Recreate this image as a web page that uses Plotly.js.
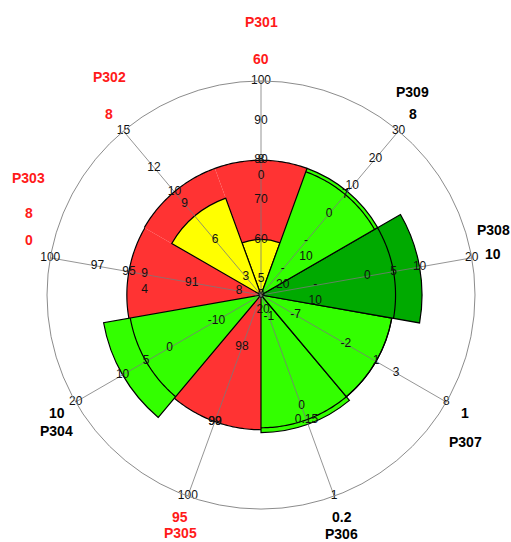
<!DOCTYPE html>
<html><head><meta charset="utf-8">
<script src="https://cdn.plot.ly/plotly-3.0.1.min.js"></script>
<style>html,body{margin:0;padding:0;background:#fff}#chart{width:511px;height:542px}</style>
</head><body><div id="chart"></div>
<script>
// ---------- data ----------
const names = ['P301','P302','P303','P304','P305','P306','P307','P308','P309'];
const angles = [90,130,170,210,250,290,330,10,50];
const values = [60, 8, 80, 10, 95, 0.2, 1, 10, 8];
const valueLabels = ['60','8','8<br>0','10','95','0.2','1','10','8'];
const limits = [80, 10, 95, 5, 99, 0.15, 1, 5, 7];
const limitLabels = ['80','10','95','5','99','0.15','1','5','7'];
const scaleMin = [46, 1.5, 86.6, -19.5, 97.3, -1.24, -10.45, -20.4, -29.4];
const scaleMax = [100, 15, 100, 20, 100, 1, 8, 20, 30];
const tickValues = [
  [50,60,70,80,90,100],
  [3,6,9,12,15],
  [88,91,94,97,100],
  [-10,0,10,20],
  [98,99,100],
  [-1,0,1],
  [-7,-2,3,8],
  [-20,-10,0,10,20],
  [-20,-10,0,10,20,30]
];
const tickLabels = [
  ['5<br>0','60','70','8<br>0','90','100'],
  ['3','6','9','12','15'],
  ['8','91','9<br>4','97','100'],
  ['-10','0','10','20'],
  ['98','99','100'],
  ['-1','0','1'],
  ['-7','-2','3','8'],
  ['-<br>20','-<br>10','0','10','20'],
  ['-<br>20','-<br>10','0','10','20','30']
];
const limitStatus = ['red','red','red','green','red','green','green','dark','green'];
const valueStatus = ['yellow','yellow','red','green','red','green','green','dark','green'];
const alarm = [true,true,true,false,true,false,false,false,false];

// ---------- style ----------
const statusColors = {red:'#ff3333', yellow:'#ffff00', green:'#33ff00', dark:'#00aa00'};
const FONT = 'Liberation Sans, Arial, sans-serif';
const W = 511, H = 542, CX = 261, CY = 295, R = 214;
const nameGap = [37, 37, 35, 18, 16, 17, 29, 24, 22];
const SECTOR = 40;

function norm(i, v) {
  const t = (v - scaleMin[i]) / (scaleMax[i] - scaleMin[i]);
  return Math.max(0, Math.min(1, t));
}

const limitR = names.map((n, i) => norm(i, limits[i]));
const valueR = names.map((n, i) => norm(i, values[i]));
const traces = [
  // limit zones: filled, no radial outline
  {type:'barpolar', r:limitR, theta:angles, width:angles.map(() => SECTOR),
   marker:{color:limitStatus.map(s => statusColors[s]), line:{width:0}},
   hoverinfo:'skip', showlegend:false},
  // values: full outline
  {type:'barpolar', r:valueR, theta:angles, width:angles.map(() => SECTOR),
   marker:{color:valueStatus.map(s => statusColors[s]), line:{color:'#000', width:1.2}},
   hoverinfo:'skip', showlegend:false}
];

// spokes
const spR = [], spT = [];
angles.forEach(a => { spR.push(0, 1, null); spT.push(a, a, null); });
traces.push({type:'scatterpolar', mode:'lines', r:spR, theta:spT,
  line:{color:'#7a7a7a', width:0.8}, hoverinfo:'skip', showlegend:false, cliponaxis:false});

// limit arcs
const arR = [], arT = [];
angles.forEach((a, i) => {
  for (let d = -SECTOR / 2; d <= SECTOR / 2; d += 1) { arR.push(limitR[i]); arT.push(a + d); }
  arR.push(null); arT.push(null);
});
traces.push({type:'scatterpolar', mode:'lines', r:arR, theta:arT,
  line:{color:'#000', width:1.2}, hoverinfo:'skip', showlegend:false, cliponaxis:false});

// tick labels
const tR = [], tT = [], tX = [];
names.forEach((n, i) => {
  tickValues[i].forEach((v, k) => {
    let s = tickLabels[i][k];
    if (s.indexOf('<br>') >= 0) s = '&nbsp;<br>' + s;
    tR.push(norm(i, v)); tT.push(angles[i]); tX.push(s);
  });
  tR.push(limitR[i]); tT.push(angles[i]); tX.push(limitLabels[i]);
});
traces.push({type:'scatterpolar', mode:'text', r:tR, theta:tT, text:tX,
  textposition:'middle center', textfont:{family:FONT, size:12, color:'#111'},
  hoverinfo:'skip', showlegend:false, cliponaxis:false});

// outer labels
const annotations = [];
function addText(txt, px, py, color) {
  annotations.push({xref:'paper', yref:'paper', x:px / W, y:1 - py / H,
    xanchor:'center', yanchor:'middle', showarrow:false,
    text:'<b>' + txt + '</b>', font:{family:FONT, size:14, color:color}});
}
names.forEach((n, i) => {
  const th = angles[i] * Math.PI / 180;
  const upper = Math.sin(th) > 0;
  const px = CX + 236 * Math.cos(th), py = CY - 236 * Math.sin(th);
  const color = alarm[i] ? '#ff1a1a' : '#000';
  const lines = valueLabels[i].split('<br>');
  const n1 = lines.length;
  if (upper) {
    const bottom = py - (n1 - 1) * 14;
    lines.forEach((ln, k) => addText(ln, px, bottom - (n1 - 1 - k) * 27, color));
    addText(n, px, bottom - (n1 - 1) * 27 - nameGap[i], color);
  } else {
    const top = py + (n1 - 1) * 14;
    lines.forEach((ln, k) => addText(ln, px, top + k * 27, color));
    addText(n, px, top + (n1 - 1) * 27 + nameGap[i], color);
  }
});

const layout = {
  width:W, height:H, margin:{l:0, r:0, t:0, b:0},
  paper_bgcolor:'#fff', plot_bgcolor:'#fff', showlegend:false,
  polar:{
    domain:{x:[(CX - R) / W, (CX + R) / W], y:[(H - CY - R) / H, (H - CY + R) / H]},
    bgcolor:'rgba(0,0,0,0)', barmode:'overlay', bargap:0,
    radialaxis:{visible:false, range:[0, 1]},
    angularaxis:{rotation:0, direction:'counterclockwise', showgrid:false,
      showticklabels:false, ticks:'', showline:true, linecolor:'#8c8c8c', linewidth:1}
  },
  annotations:annotations
};
Plotly.newPlot('chart', traces, layout, {displayModeBar:false, staticPlot:true});
</script>
</body></html>
